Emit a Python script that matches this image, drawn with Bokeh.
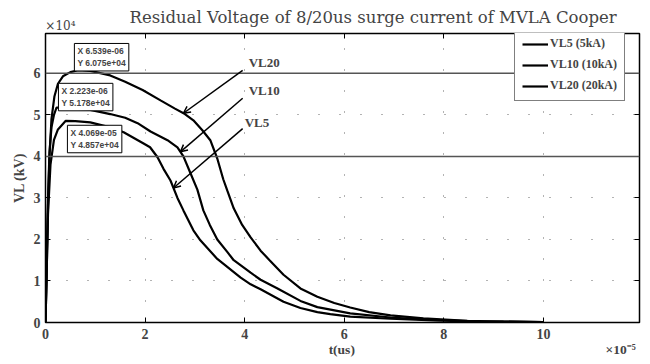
import numpy as np
from bokeh.plotting import figure
from bokeh.models import (Range1d, FixedTicker, LinearAxis, Label, Arrow, OpenHead,
                          Span, Legend, LegendItem)
from bokeh.embed import file_html
from bokeh.resources import INLINE

# ---- data (t in units of 1e-5 s, VL in units of 1e4) ----
t20 = [0, 0.02, 0.05, 0.08, 0.12, 0.18, 0.25, 0.35, 0.5, 0.654, 0.9, 1.3, 1.6, 1.95, 2.31, 2.6, 2.8,
       2.97, 3.15, 3.31, 3.45, 3.57, 3.65, 3.78, 3.95, 4.12, 4.32, 4.5, 4.78, 5.12, 5.46, 5.8, 6.12,
       6.5, 6.93, 7.59, 8.47, 9.2, 10]
v20 = [0, 1.0, 2.8, 4.0, 4.9, 5.45, 5.75, 5.93, 6.03, 6.075, 6.06, 5.95, 5.8, 5.6, 5.35, 5.15, 5.02,
       4.87, 4.63, 4.39, 3.95, 3.45, 3.18, 2.75, 2.35, 2.05, 1.73, 1.5, 1.15, 0.82, 0.62, 0.47, 0.36,
       0.25, 0.17, 0.1, 0.04, 0.02, 0.01]
t10 = [0, 0.02, 0.05, 0.08, 0.12, 0.17, 0.222, 0.4, 0.9, 1.3, 1.6, 1.85, 2.11, 2.45, 2.65, 2.77, 2.91,
       3.05, 3.17, 3.3, 3.45, 3.65, 3.78, 4.12, 4.32, 4.66, 5.12, 5.46, 6.12, 6.93, 7.79, 8.7, 10]
v10 = [0, 1.2, 3.0, 4.1, 4.7, 5.0, 5.178, 5.17, 5.12, 5.02, 4.93, 4.8, 4.6, 4.39, 4.22, 4.0, 3.6,
       3.2, 2.7, 2.35, 2.0, 1.7, 1.5, 1.2, 1.03, 0.82, 0.52, 0.37, 0.22, 0.12, 0.06, 0.03, 0.01]
t5 = [0, 0.02, 0.05, 0.1, 0.17, 0.25, 0.407, 0.6, 0.9, 1.3, 1.57, 1.97, 2.1, 2.25, 2.37, 2.51, 2.65,
      2.77, 2.97, 3.11, 3.45, 3.92, 4.12, 4.32, 4.78, 5.12, 5.46, 5.72, 6.12, 6.93, 7.8, 8.7, 10]
v5 = [0, 1.0, 2.6, 3.8, 4.4, 4.65, 4.857, 4.85, 4.82, 4.7, 4.58, 4.31, 4.22, 3.98, 3.7, 3.42, 3.0,
      2.7, 2.22, 1.98, 1.53, 1.08, 0.92, 0.8, 0.5, 0.35, 0.25, 0.2, 0.14, 0.09, 0.05, 0.02, 0.01]

legend_labels = ["VL5 (5kA)", "VL10 (10kA)", "VL20 (20kA)"]
curve_names = ["VL5", "VL10", "VL20"]
x_ticks = [0, 2, 4, 6, 8, 10]
y_ticks = [0, 1, 2, 3, 4, 5, 6]
solid_grid_levels = [4, 6]
tip_texts = ["X 6.539e-06\nY 6.075e+04", "X 2.223e-06\nY 5.178e+04", "X 4.069e-05\nY 4.857e+04"]
x_label = "t(us)"
y_label = "VL (kV)"
x_exp = "×10⁻⁵"
y_exp = "×10⁴"

TITLE = "Residual Voltage of 8/20us surge current of MVLA Cooper"
SERIF = "DejaVu Serif"
BSERIF = "Liberation Serif"

p = figure(width=650, height=364, output_backend="svg", toolbar_location=None,
           x_range=Range1d(0, 11.93), y_range=Range1d(0, 6.96),
           min_border_left=45, min_border_right=11, min_border_top=33, min_border_bottom=42)
p.background_fill_color = "white"
p.border_fill_color = "white"
p.outline_line_color = "black"
p.outline_line_width = 1.5

p.title.text = TITLE
p.title.text_font = SERIF
p.title.text_font_size = "16.5px"
p.title.text_font_style = "normal"
p.title.align = "left"
p.title.offset = 75
p.title.standoff = -22
p.title.padding = (9, 0, 0, 0)

for ax in (p.xaxis[0], p.yaxis[0]):
    ax.major_tick_in = 5
    ax.major_tick_out = 0
    ax.minor_tick_line_color = None
    ax.axis_line_color = "black"
    ax.major_label_text_font = BSERIF
    ax.major_label_text_font_style = "bold"
    ax.major_label_text_font_size = "14px"
    ax.axis_label_text_font = BSERIF
    ax.axis_label_text_font_style = "bold"
    ax.axis_label_text_font_size = "14px"
p.xaxis.ticker = FixedTicker(ticks=x_ticks)
p.yaxis.ticker = FixedTicker(ticks=y_ticks)
p.yaxis.axis_label = y_label
p.xaxis.major_label_standoff = 6
p.yaxis.major_label_standoff = 5
p.yaxis.axis_label_standoff = 4

# second bottom axis row carrying the x label and the x exponent
x_label_pos = 5.95
x_exp_pos = 11.55
bottom2 = LinearAxis(ticker=FixedTicker(ticks=[x_label_pos, x_exp_pos]),
                     major_label_overrides={x_label_pos: x_label, x_exp_pos: x_exp},
                     major_tick_in=0, major_tick_out=0, minor_tick_line_color=None,
                     axis_line_color=None, major_label_standoff=0,
                     major_label_text_font=BSERIF, major_label_text_font_style="bold",
                     major_label_text_font_size="13.5px")
p.add_layout(bottom2, "below")

# top axis: inward tick marks (as minor ticks) plus the y exponent label
y_exp_pos = 0.3
top = LinearAxis(ticker=FixedTicker(ticks=[y_exp_pos], minor_ticks=x_ticks),
                 major_label_overrides={y_exp_pos: y_exp},
                 major_tick_in=0, major_tick_out=0, minor_tick_in=5, minor_tick_out=0,
                 minor_tick_line_color="black", axis_line_color=None, major_label_standoff=1,
                 major_label_text_font=SERIF, major_label_text_font_size="12px")
right = LinearAxis(ticker=FixedTicker(ticks=y_ticks), major_label_text_font_size="0px",
                   major_tick_in=5, major_tick_out=0, minor_tick_line_color=None,
                   axis_line_color=None, major_label_standoff=0)
p.add_layout(top, "above")
p.add_layout(right, "right")

p.xgrid.ticker = FixedTicker(ticks=x_ticks)
p.ygrid.ticker = FixedTicker(ticks=y_ticks)
p.grid.grid_line_color = "#666666"
p.grid.grid_line_dash = "1 20"
p.grid.grid_line_width = 1

for lv in solid_grid_levels:
    p.add_layout(Span(location=lv, dimension="width", line_color="#555555", line_width=1.5))

r5 = p.line(t5, v5, line_color="black", line_width=2.2)
r10 = p.line(t10, v10, line_color="black", line_width=2.2)
r20 = p.line(t20, v20, line_color="black", line_width=2.2)

# curve name labels with arrows
label_pos = [(4.0, 4.82), (4.08, 5.59), (4.08, 6.27)]
arrow_start = [(3.96, 4.67), (3.96, 5.40), (3.96, 6.07)]
tip_t = [2.57, 2.71, 2.77]
series = [(t5, v5), (t10, v10), (t20, v20)]
for name, (lx, ly), (sx, sy), tt, (ts, vs) in zip(curve_names, label_pos, arrow_start, tip_t, series):
    p.add_layout(Label(x=lx, y=ly, text=name, text_baseline="middle", text_font=BSERIF,
                       text_font_style="bold", text_font_size="13px"))
    p.add_layout(Arrow(end=OpenHead(size=7, line_width=1.5), x_start=sx, y_start=sy,
                       x_end=tt, y_end=float(np.interp(tt, ts, vs)), line_width=1.5))

# data tips
tip_pos = [(0.58, 6.72), (0.26, 5.76), (0.44, 4.75)]
for txt, (tx, ty) in zip(tip_texts, tip_pos):
    p.add_layout(Label(x=tx, y=ty, text=txt, anchor="top_left", text_font="Liberation Sans",
                       text_font_style="bold", text_font_size="8.5px", text_line_height=1.15,
                       border_line_color="black", border_line_width=1,
                       background_fill_color="white", padding=3))

legend = Legend(items=[LegendItem(label=l, renderers=[r]) for l, r in zip(legend_labels, [r5, r10, r20])],
                location=(469, 221), border_line_color="black", border_line_width=1,
                background_fill_color="white", background_fill_alpha=1.0,
                label_text_font=BSERIF, label_text_font_style="bold", label_text_font_size="12px",
                glyph_width=26, glyph_height=14, label_height=14, spacing=6, padding=7,
                label_standoff=2, margin=0)
p.add_layout(legend)

open("out.html", "w").write(file_html(p, INLINE))
